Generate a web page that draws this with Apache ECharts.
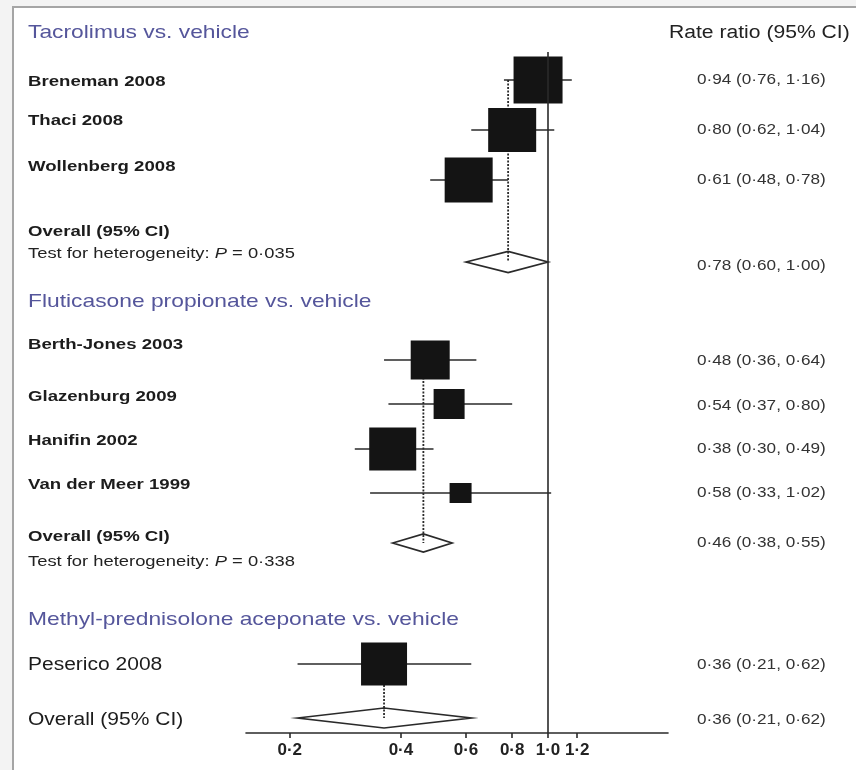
<!DOCTYPE html>
<html><head><meta charset="utf-8">
<script src="https://cdn.jsdelivr.net/npm/echarts@6/dist/echarts.min.js"></script>
<style>
html,body{margin:0;padding:0;width:856px;height:770px;overflow:hidden;background:#f3f3f3;}
#frame{position:absolute;left:12px;top:6px;width:844px;height:764px;background:#fff;border-left:2px solid #a5a5a5;border-top:2px solid #a5a5a5;box-sizing:border-box;}
#chart{position:absolute;left:0;top:0;width:856px;height:770px;}
</style></head><body><div id="frame"></div><div id="chart"></div>
<script>
// ---------------- data ----------------
const groupTitles = ['Tacrolimus vs. vehicle', 'Fluticasone propionate vs. vehicle', 'Methyl-prednisolone aceponate vs. vehicle'];
const studyNames = ['Breneman 2008', 'Thaci 2008', 'Wollenberg 2008', 'Berth-Jones 2003', 'Glazenburg 2009', 'Hanifin 2002', 'Van der Meer 1999', 'Peserico 2008'];
const studyGroup = [0, 0, 0, 1, 1, 1, 1, 2];
const rateRatio = [0.94, 0.80, 0.61, 0.48, 0.54, 0.38, 0.58, 0.36];
const ciLow     = [0.76, 0.62, 0.48, 0.36, 0.37, 0.30, 0.33, 0.21];
const ciHigh    = [1.16, 1.04, 0.78, 0.64, 0.80, 0.49, 1.02, 0.62];
const overallLabel = 'Overall (95% CI)';
const overallRR   = [0.78, 0.46, 0.36];
const overallLow  = [0.60, 0.38, 0.21];
const overallHigh = [1.00, 0.55, 0.62];
const heterogeneityP = ['0·035', '0·338', null];
const tickValues = [0.2, 0.4, 0.6, 0.8, 1.0, 1.2];
const tickLabels = ['0·2', '0·4', '0·6', '0·8', '1·0', '1·2'];
const columnTitle = 'Rate ratio (95% CI)';

// ---------------- layout / style ----------------
const FONT = '"Liberation Sans", Arial, Helvetica, sans-serif';
const SX = 1.2; // horizontal stretch of the original artwork's lettering
const GRID = {left: 246, right: 188, top: 52, bottom: 37};
const Y_SPAN = 681;
const X_MIN = Math.log(0.1523), X_MAX = Math.log(2.1126);
const studyRowY = [28, 78, 128, 308, 352, 397, 441, 612];
const overallRowY = [210, 491, 666];
const squareSize = [[49, 47], [48, 44], [48, 45], [39, 39], [31, 30], [47, 43], [22, 20], [46, 43]];
const diamondHalfH = [10.5, 9, 10];
const groupBold = [true, true, false];
const headerY = [33, 302, 620];
const studyLabelY = [82, 121, 167, 345, 397, 441, 485, 665];
const overallLabelY = [232, 537, 720];
const testLabelY = [254, 562, null];
const studyValueY = [80, 130, 180, 361, 406, 449, 493, 665];
const overallValueY = [266, 543, 720];
const LEFT_X = 28, VALUE_X = 697;
const INK = '#2a2a2a';

const fmt = v => v.toFixed(2).replace('.', '·');
const tickPos = tickValues.map(v => Math.log(v));

function txt(x, y, text, font, fill, extra) {
  return Object.assign({
    type: 'text', x: x, y: y, scaleX: SX, silent: true,
    style: {text: text, font: font, fill: fill, verticalAlign: 'middle', textVerticalAlign: 'middle'}
  }, extra || {});
}

const graphics = [];
groupTitles.forEach((t, g) => graphics.push(txt(LEFT_X, headerY[g], t, '19px ' + FONT, '#55569b')));
studyNames.forEach((n, i) => {
  const b = groupBold[studyGroup[i]];
  graphics.push(txt(LEFT_X, studyLabelY[i], n, b ? 'bold 15.5px ' + FONT : '17.5px ' + FONT, '#1c1c1c'));
  graphics.push(txt(VALUE_X, studyValueY[i], fmt(rateRatio[i]) + ' (' + fmt(ciLow[i]) + ', ' + fmt(ciHigh[i]) + ')', '14.3px ' + FONT, '#333'));
});
overallRR.forEach((v, g) => {
  const b = groupBold[g];
  graphics.push(txt(LEFT_X, overallLabelY[g], overallLabel, b ? 'bold 15.5px ' + FONT : '17.5px ' + FONT, '#1c1c1c'));
  graphics.push(txt(VALUE_X, overallValueY[g], fmt(v) + ' (' + fmt(overallLow[g]) + ', ' + fmt(overallHigh[g]) + ')', '14.3px ' + FONT, '#333'));
  if (heterogeneityP[g]) {
    const el = txt(LEFT_X, testLabelY[g], 'Test for heterogeneity: {i|P} = ' + heterogeneityP[g], '15.3px ' + FONT, '#222');
    el.style.rich = {i: {font: 'italic 15.3px ' + FONT, fontStyle: 'italic', fontSize: 15.3, fontFamily: FONT, fill: '#222'}};
    graphics.push(el);
  }
});
graphics.push(txt(669, headerY[0], columnTitle, '17.6px ' + FONT, '#222'));

const firstRow = overallRR.map((_, g) => studyRowY[studyGroup.indexOf(g)]);

const chart = echarts.init(document.getElementById('chart'), null, {renderer: 'canvas'});
chart.setOption({
  animation: false,
  backgroundColor: 'transparent',
  grid: GRID,
  xAxis: {
    type: 'value', min: X_MIN, max: X_MAX,
    axisLine: {show: true, onZero: false, lineStyle: {color: INK, width: 1.6}},
    axisTick: {show: true, length: 5, customValues: tickPos, lineStyle: {color: INK, width: 1.6}},
    axisLabel: {
      customValues: tickPos, margin: 9, fontFamily: FONT, fontWeight: 'bold', fontSize: 17, color: '#222',
      formatter: v => {
        let k = 0;
        tickPos.forEach((p, j) => { if (Math.abs(p - v) < Math.abs(tickPos[k] - v)) k = j; });
        return tickLabels[k];
      }
    },
    splitLine: {show: false}
  },
  yAxis: {type: 'value', min: 0, max: Y_SPAN, inverse: true, show: false},
  graphic: graphics,
  series: [
    {
      type: 'custom', name: 'overall', z: 2,
      data: overallRR.map((v, g) => [Math.log(v), overallRowY[g], Math.log(overallLow[g]), Math.log(overallHigh[g]), g]),
      encode: {x: 0, y: 1},
      renderItem: (params, api) => {
        const y = api.value(1), g = api.value(4), h = diamondHalfH[g];
        const c = api.coord([api.value(0), y]);
        const lo = api.coord([api.value(2), y]);
        const hi = api.coord([api.value(3), y]);
        return {type: 'polygon', shape: {points: [[lo[0], lo[1]], [c[0], c[1] - h], [hi[0], hi[1]], [c[0], c[1] + h]]},
          style: {fill: '#fff', stroke: INK, lineWidth: 1.7}};
      },
      markLine: {silent: true, symbol: 'none', label: {show: false}, animation: false,
        lineStyle: {color: INK, width: 1.6, type: 'solid'}, data: [{xAxis: 0}]}
    },
    {
      type: 'custom', name: 'pooled estimate', z: 3,
      data: overallRR.map((v, g) => [Math.log(v), firstRow[g], overallRowY[g]]),
      encode: {x: 0, y: 1},
      renderItem: (params, api) => {
        const a = api.coord([api.value(0), api.value(1)]);
        const b = api.coord([api.value(0), api.value(2)]);
        return {type: 'line', shape: {x1: a[0], y1: a[1], x2: b[0], y2: b[1]},
          style: {stroke: INK, lineWidth: 1.8, lineDash: [2, 1.5]}};
      }
    },
    {
      type: 'custom', name: 'studies', z: 4,
      data: studyNames.map((n, i) => [Math.log(rateRatio[i]), studyRowY[i], Math.log(ciLow[i]), Math.log(ciHigh[i]), i]),
      encode: {x: 0, y: 1},
      renderItem: (params, api) => {
        const y = api.value(1), i = api.value(4);
        const c = api.coord([api.value(0), y]);
        const lo = api.coord([api.value(2), y]);
        const hi = api.coord([api.value(3), y]);
        const w = squareSize[i][0], h = squareSize[i][1];
        return {type: 'group', children: [
          {type: 'line', shape: {x1: lo[0], y1: lo[1], x2: hi[0], y2: hi[1]}, style: {stroke: INK, lineWidth: 1.7}},
          {type: 'rect', shape: {x: c[0] - w / 2, y: c[1] - h / 2, width: w, height: h}, style: {fill: '#141414'}}
        ]};
      }
    }
  ]
});
</script></body></html>
